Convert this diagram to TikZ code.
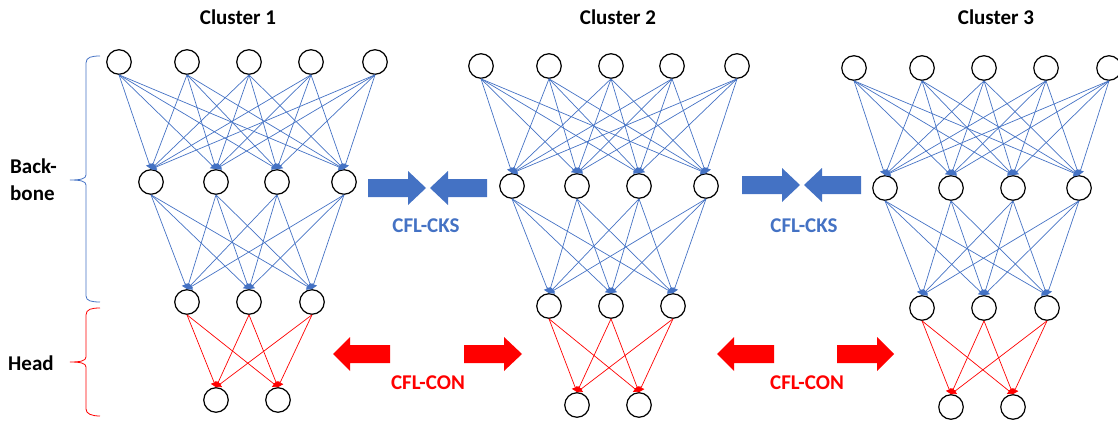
\documentclass[tikz,border=0pt]{standalone}
\usepackage{fontspec}
\setmainfont{Carlito}
\usetikzlibrary{arrows.meta}
\definecolor{netblue}{HTML}{4472C4}
\definecolor{netred}{HTML}{FF0000}

% one layer of neurons: cluster id, layer id, y, list of x positions
\newcommand\netlayer[4]{%
  \foreach \xx [count=\ii] in {#4}
    \node[neuron] (#1-#2-\ii) at (\xx,#3) {};
}
% full connections between two layers: cluster, upper layer, size, lower layer, size, style
\newcommand\netlinks[6]{%
  \foreach \ii in {1,...,#3}
    \foreach \jj in {1,...,#5}
      \draw[#6] (#1-#2-\ii.south) -- (#1-#4-\jj.north);
}
% block arrows: x start, head base, tip, y centre
\newcommand\blockarrow[5]{%
  \fill[#5] (#1,#4-9) -- (#2,#4-9) -- (#2,#4-17) -- (#3,#4)
            -- (#2,#4+17) -- (#2,#4+9) -- (#1,#4+9) -- cycle;
}

\tikzset{
  neuron/.style={circle, draw=black, line width=1.2pt, minimum size=24.5pt, inner sep=0pt},
  blueedge/.style={netblue, line width=0.7pt, -{Triangle[length=5pt,width=7pt]}},
  rededge/.style={netred, line width=0.7pt, -{Triangle[length=5pt,width=7pt]}},
  lbl/.style={font=\fontsize{21}{26}\selectfont\bfseries, inner sep=0pt},
}

\begin{document}
\begin{tikzpicture}[x=1pt, y=-1pt]
\useasboundingbox (0,0) rectangle (1118,420);

% cluster 1
\netlayer{c1}{1}{62}{119,187,249,311,375}
\netlayer{c1}{2}{182}{151,216,277,344}
\netlayer{c1}{3}{302}{187,249,312}
\netlayer{c1}{4}{400}{216,278}
% cluster 2
\netlayer{c2}{1}{66}{481,549,611,672,737}
\netlayer{c2}{2}{186}{512,577,639,706}
\netlayer{c2}{3}{306}{549,611,673}
\netlayer{c2}{4}{405}{577,639}
% cluster 3
\netlayer{c3}{1}{68}{854,922,984,1046,1109}
\netlayer{c3}{2}{188}{885,951,1013,1079}
\netlayer{c3}{3}{308}{922,984,1047}
\netlayer{c3}{4}{407}{951,1013}

\foreach \c in {c1,c2,c3}{
  \netlinks{\c}{1}{5}{2}{4}{blueedge}
  \netlinks{\c}{2}{4}{3}{3}{blueedge}
  \netlinks{\c}{3}{3}{4}{2}{rededge}
}

% titles
\node[lbl, anchor=base] (t1) at (238,25) {Cluster 1};
\node[lbl, anchor=base] (t2) at (618,25) {Cluster 2};
\node[lbl, anchor=base] (t3) at (996,25) {Cluster 3};

% braces and side labels
\draw[netblue, line width=0.8pt]
  (100,56) .. controls (92,56) and (86,57) .. (86,63) -- (86,175)
  .. controls (86,179) and (80,180) .. (70,180)
  .. controls (80,180) and (86,181) .. (86,185) -- (86,296)
  .. controls (86,301) and (92,302) .. (100,302);
\draw[netred, line width=0.8pt]
  (100,308) .. controls (92,308) and (86,309) .. (86,315) -- (86,357)
  .. controls (86,361) and (80,362) .. (70,362)
  .. controls (80,362) and (86,363) .. (86,367) -- (86,409)
  .. controls (86,414) and (92,416) .. (100,416);
\node[lbl, anchor=base west] (bb1) at (10,173) {Back-};
\node[lbl, anchor=base west] (bb2) at (10,200) {bone};
\node[lbl, anchor=base west] (hd) at (8,370) {Head};

% knowledge-sharing arrows
\blockarrow{368}{408}{426}{188}{netblue}
\blockarrow{487}{448}{430}{188}{netblue}
\blockarrow{742}{782}{800}{185}{netblue}
\blockarrow{861}{822}{804}{185}{netblue}
\node[lbl, anchor=base, text=netblue] (k1) at (426,232) {CFL-CKS};
\node[lbl, anchor=base, text=netblue] (k2) at (804,232) {CFL-CKS};

% consensus arrows
\blockarrow{390}{350}{333}{354}{netred}
\blockarrow{464}{504}{522}{354}{netred}
\blockarrow{774}{734}{717}{354}{netred}
\blockarrow{837}{877}{894}{354}{netred}
\node[lbl, anchor=base, text=netred] (n1) at (428,389) {CFL-CON};
\node[lbl, anchor=base, text=netred] (n2) at (807,389) {CFL-CON};
\end{tikzpicture}
\end{document}
